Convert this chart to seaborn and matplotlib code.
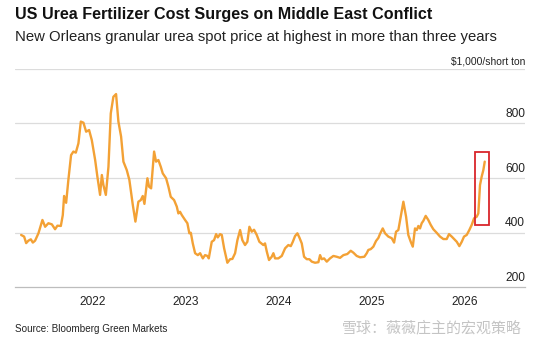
import numpy as np
import pandas as pd
import matplotlib
matplotlib.use("Agg")
import matplotlib.pyplot as plt
import matplotlib.patches as mpatches
from matplotlib.ticker import MultipleLocator, FixedLocator
import seaborn as sns

# ---- data (decimal year, $/short ton) ----
years = [
    2021.226, 2021.258, 2021.280, 2021.304, 2021.330, 2021.352, 2021.376, 2021.412, 2021.455, 2021.484,
    2021.519, 2021.556, 2021.591, 2021.616, 2021.653, 2021.674, 2021.688, 2021.710, 2021.734, 2021.763,
    2021.788, 2021.814, 2021.842, 2021.868, 2021.896, 2021.925, 2021.957, 2021.986, 2022.022, 2022.046,
    2022.075, 2022.094, 2022.111, 2022.137, 2022.165, 2022.190, 2022.218, 2022.247, 2022.272, 2022.301,
    2022.326, 2022.362, 2022.390, 2022.427, 2022.455, 2022.487, 2022.513, 2022.534, 2022.552, 2022.584,
    2022.602, 2022.624, 2022.656, 2022.677, 2022.702, 2022.728, 2022.749, 2022.785, 2022.810, 2022.835,
    2022.871, 2022.900, 2022.917, 2022.935, 2022.954, 2022.989, 2023.014, 2023.035, 2023.051, 2023.072,
    2023.097, 2023.126, 2023.151, 2023.180, 2023.204, 2023.229, 2023.244, 2023.276, 2023.301, 2023.323,
    2023.341, 2023.366, 2023.384, 2023.409, 2023.444, 2023.473, 2023.498, 2023.527, 2023.552, 2023.581,
    2023.605, 2023.634, 2023.659, 2023.681, 2023.706, 2023.731, 2023.760, 2023.788, 2023.831, 2023.849,
    2023.868, 2023.892, 2023.921, 2023.939, 2023.957, 2023.992, 2024.029, 2024.065, 2024.100, 2024.126,
    2024.148, 2024.172, 2024.197, 2024.218, 2024.244, 2024.269, 2024.298, 2024.326, 2024.352, 2024.387,
    2024.423, 2024.441, 2024.459, 2024.484, 2024.513, 2024.548, 2024.584, 2024.620, 2024.656, 2024.692,
    2024.734, 2024.771, 2024.799, 2024.835, 2024.871, 2024.917, 2024.943, 2024.960, 2024.986, 2025.014,
    2025.043, 2025.068, 2025.086, 2025.115, 2025.140, 2025.175, 2025.212, 2025.237, 2025.258, 2025.283,
    2025.309, 2025.337, 2025.366, 2025.390, 2025.416, 2025.438, 2025.462, 2025.481, 2025.498, 2025.516,
    2025.534, 2025.552, 2025.577, 2025.605, 2025.631, 2025.659, 2025.695, 2025.731, 2025.767, 2025.803,
    2025.828, 2025.857, 2025.882, 2025.911, 2025.939, 2025.965, 2025.989, 2026.018, 2026.046, 2026.072,
    2026.097, 2026.126, 2026.143, 2026.161, 2026.179, 2026.197, 2026.212,
]
prices = [
    391, 385, 361, 370, 375, 363, 370, 397, 446, 421,
    434, 430, 412, 425, 424, 464, 534, 509, 593, 684,
    697, 693, 727, 807, 803, 770, 776, 739, 666, 605,
    538, 611, 574, 538, 641, 837, 898, 908, 807, 752,
    660, 629, 593, 501, 440, 513, 519, 534, 505, 599,
    568, 562, 697, 660, 666, 641, 617, 599, 568, 531,
    519, 495, 470, 476, 464, 446, 434, 397, 399, 360,
    324, 317, 324, 305, 317, 314, 305, 366, 372, 394,
    382, 394, 391, 342, 289, 302, 303, 324, 372, 409,
    372, 354, 366, 421, 403, 410, 391, 366, 354, 360,
    330, 299, 311, 324, 305, 305, 314, 342, 354, 350,
    366, 387, 397, 382, 360, 311, 302, 302, 293, 289,
    291, 317, 302, 305, 293, 305, 314, 311, 307, 317,
    321, 333, 326, 314, 309, 311, 324, 336, 339, 348,
    369, 380, 395, 415, 397, 385, 379, 363, 403, 409,
    458, 513, 458, 391, 366, 348, 415, 409, 424, 415,
    434, 443, 461, 446, 428, 412, 399, 385, 376, 376,
    394, 385, 376, 366, 350, 366, 385, 391, 409, 428,
    452, 458, 470, 574, 605, 629, 660,
]
year_ticks = [2022, 2023, 2024, 2025, 2026]
y_ticks = [200, 400, 600, 800, 1000]
y_labels = ["200", "400", "600", "800", "$1,000/short ton"]
highlight_x = [2026.108, 2026.258]
highlight_y = [427, 695]

title = "US Urea Fertilizer Cost Surges on Middle East Conflict"
subtitle = "New Orleans granular urea spot price at highest in more than three years"
source = "Source: Bloomberg Green Markets"
watermark = "雪球：薇薇庄主的宏观策略"

df = pd.DataFrame({"year": years, "price": prices})

sns.set_theme(style="white")
plt.rcParams["font.family"] = ["Liberation Sans", "DejaVu Sans"]

W, H = 540, 340
fig = plt.figure(figsize=(W / 100, H / 100), dpi=100)
fig.patch.set_facecolor("white")
ax = fig.add_axes([15 / W, 1 - 287 / H, 510 / W, (287 - 69) / H])
ax.set_facecolor("white")

sns.lineplot(data=df, x="year", y="price", ax=ax, color="#F3A135",
             linewidth=1.7, zorder=3)

ax.set_xlim(2021.16, 2026.645)
ax.set_ylim(200, 1000)

# grid
ax.set_yticks(y_ticks)
ax.set_yticklabels([])
ax.tick_params(axis="y", length=0)
for yv in y_ticks[1:]:
    ax.axhline(yv, color="#dcdcdc", linewidth=0.9, zorder=1)
for yv, lab in zip(y_ticks, y_labels):
    big = yv < 1000
    ax.annotate(lab, xy=(1.0, yv), xycoords=("axes fraction", "data"),
                xytext=(0, 9 if big else 7), textcoords="offset pixels",
                ha="right", va="center", fontsize=8.6 if big else 7.4,
                color="#222222")

# x axis
ax.xaxis.set_major_locator(FixedLocator(year_ticks))
ax.xaxis.set_minor_locator(MultipleLocator(0.25))
ax.set_xticklabels([str(y) for y in year_ticks])
ax.tick_params(axis="x", which="major", length=4, width=0.9, color="#888888",
               labelsize=8.6, labelcolor="#222222", pad=4.5, direction="inout")
ax.tick_params(axis="x", which="minor", length=2.5, width=0.7, color="#bbbbbb",
               direction="inout")
ax.set_xlabel("")
ax.set_ylabel("")

for s in ["top", "left", "right"]:
    ax.spines[s].set_visible(False)
ax.spines["bottom"].set_color("#bdbdbd")
ax.spines["bottom"].set_linewidth(0.9)

# highlight box
rect = mpatches.Rectangle((highlight_x[0], highlight_y[0]),
                          highlight_x[1] - highlight_x[0],
                          highlight_y[1] - highlight_y[0],
                          fill=False, edgecolor="#d9252b", linewidth=1.3, zorder=4)
ax.add_patch(rect)

# texts
fig.text(15 / W, 1 - 14 / H, title, fontsize=11.6, fontweight="bold",
         ha="left", va="center", color="#111111")
fig.text(15 / W, 1 - 37 / H, subtitle, fontsize=10.7, ha="left", va="center",
         color="#222222")
fig.text(15 / W, 1 - 329 / H, source, fontsize=7.1, ha="left", va="center",
         color="#222222")
fig.text(522 / W, 1 - 328 / H, watermark, fontsize=10.8, ha="right", va="center",
         color="#c4c4c4", family=["Noto Sans CJK SC", "DejaVu Sans"])

fig.savefig("out.png", dpi=100)
